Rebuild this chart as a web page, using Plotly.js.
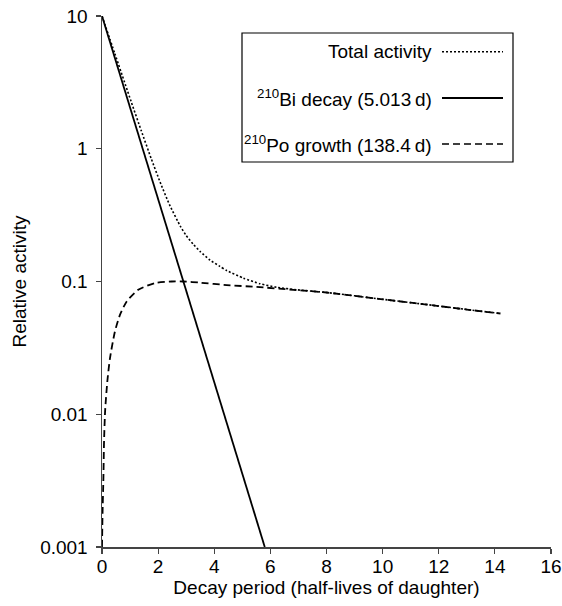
<!DOCTYPE html>
<html>
<head>
<meta charset="utf-8">
<script src="https://cdn.plot.ly/plotly-3.0.1.min.js"></script>
<style>html,body{margin:0;padding:0;background:#fff;}#chart{width:562px;height:606px;}</style>
</head>
<body>
<div id="chart"></div>
<script>
// Data
const biX = [0, 5.8];
const biY = [10, 0.001];

const poX = [0, 0.02, 0.05, 0.07, 0.11, 0.19, 0.285, 0.46, 0.64, 0.88, 1.29, 1.89, 2.48, 2.9, 3.5, 4.44, 5.5, 6.82, 8, 9, 10, 11, 12, 13, 14.2];
const poY = [0.001, 0.0018, 0.0033, 0.0059, 0.0105, 0.0177, 0.0265, 0.042, 0.056, 0.0708, 0.0866, 0.0973, 0.1, 0.1, 0.098, 0.094, 0.091, 0.0866, 0.0826, 0.078, 0.0734, 0.0693, 0.0653, 0.0615, 0.0574];

const totX = [0, 0.45, 1.04, 1.40, 1.75, 2.07, 2.4, 2.8, 3.0, 3.25, 3.5, 3.85, 4.2, 4.44, 5.04, 5.63, 6.23, 6.94, 8, 9, 10, 11, 12, 13, 14.2];
const totY = [10, 5.26, 2.26, 1.365, 0.847, 0.561, 0.381, 0.259, 0.222, 0.191, 0.168, 0.145, 0.130, 0.121, 0.106, 0.0962, 0.0904, 0.0866, 0.0826, 0.078, 0.0734, 0.0693, 0.0653, 0.0615, 0.0574];

const yTickVals = [0.001, 0.01, 0.1, 1, 10];
const yTickText = ['0.001', '0.01', '0.1', '1', '10'];
const xTickVals = [0, 2, 4, 6, 8, 10, 12, 14, 16];

const legendLabels = ['Total activity', '<sup>210</sup>Bi decay (5.013\u2009d)', '<sup>210</sup>Po growth (138.4\u2009d)'];
const legendDash = ['2px,2px', 'solid', '7px,4px'];

// Layout geometry (pixels)
const W = 562, H = 606;
const M = {l: 102, r: 11, t: 16, b: 59};
const pw = W - M.l - M.r, ph = H - M.t - M.b;
const px = x => (x - M.l) / pw;
const py = y => (H - M.b - y) / ph;

const FONT = 'Liberation Sans, Arial, Helvetica, sans-serif';
const FS = 19;

const traces = [
  {x: poX, y: poY, mode: 'lines', line: {color: '#000', width: 1.8, dash: legendDash[2], shape: 'spline', smoothing: 0.6}, showlegend: false, hoverinfo: 'skip'},
  {x: biX, y: biY, mode: 'lines', line: {color: '#000', width: 1.8}, showlegend: false, hoverinfo: 'skip'},
  {x: totX, y: totY, mode: 'lines', line: {color: '#000', width: 1.6, dash: legendDash[0], shape: 'spline', smoothing: 0.5}, showlegend: false, hoverinfo: 'skip'}
];

const legRows = [51.7, 98, 144];
const shapes = [
  {type: 'rect', xref: 'paper', yref: 'paper', x0: px(242), x1: px(513), y0: py(162), y1: py(33), line: {color: '#000', width: 1.2}, fillcolor: '#fff', layer: 'below'}
];
const annotations = [];
legRows.forEach((ry, i) => {
  shapes.push({type: 'line', xref: 'paper', yref: 'paper', x0: px(442), x1: px(503), y0: py(ry), y1: py(ry),
    line: {color: '#000', width: i === 1 ? 1.8 : 1.6, dash: legendDash[i]}});
  annotations.push({xref: 'paper', yref: 'paper', x: px(434), y: py(ry), xanchor: 'right', yanchor: 'middle',
    text: legendLabels[i], showarrow: false, font: {family: FONT, size: FS, color: '#000'}});
});

const layout = {
  width: W, height: H,
  margin: M,
  paper_bgcolor: '#fff', plot_bgcolor: 'rgba(0,0,0,0)',
  font: {family: FONT, size: FS, color: '#000'},
  showlegend: false,
  xaxis: {
    range: [0, 16], tickvals: xTickVals, showgrid: false, zeroline: false,
    showline: true, linecolor: '#444', linewidth: 1.5,
    ticks: 'outside', ticklen: 5, tickcolor: '#444', tickwidth: 1.2, ticklabelstandoff: -3,
    tickfont: {family: FONT, size: FS, color: '#000'},
    title: {text: 'Decay period (half-lives of daughter)', font: {family: FONT, size: FS, color: '#000'}, standoff: 0}
  },
  yaxis: {
    type: 'log', range: [-3, 1], tickvals: yTickVals, ticktext: yTickText, showgrid: false, zeroline: false,
    showline: true, linecolor: '#444', linewidth: 1.5,
    ticks: 'outside', ticklen: 5, tickcolor: '#444', tickwidth: 1.2, ticklabelstandoff: 4,
    tickfont: {family: FONT, size: FS, color: '#000'},
    title: {text: 'Relative activity', font: {family: FONT, size: FS, color: '#000'}, standoff: 8}
  },
  shapes: shapes,
  annotations: annotations
};

Plotly.newPlot('chart', traces, layout, {displayModeBar: false, staticPlot: true});
</script>
</body>
</html>
